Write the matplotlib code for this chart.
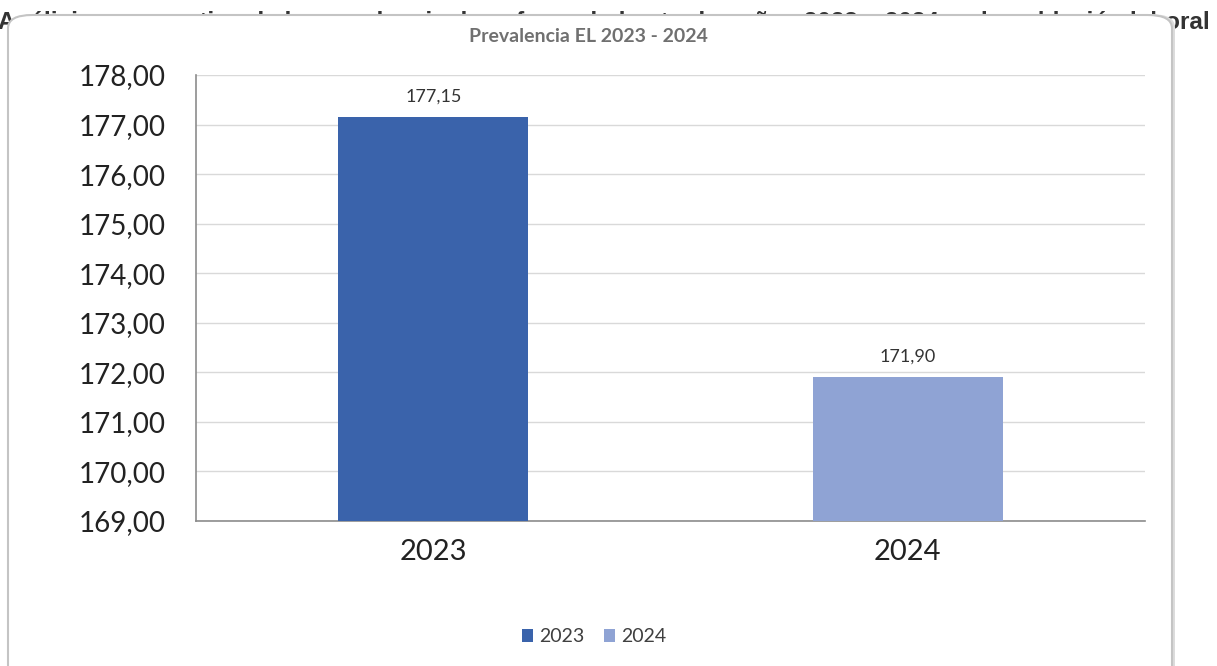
import numpy as np
import matplotlib.pyplot as plt
from matplotlib.patches import FancyBboxPatch

# datos
anios = ['2023', '2024']
prevalencia = [177.15, 171.90]
colores = ['#3A63AB', '#8FA3D4']
y_ticks = [169, 170, 171, 172, 173, 174, 175, 176, 177, 178]

plt.rcParams['font.family'] = ['Lato', 'DejaVu Sans']

fig = plt.figure(figsize=(12.17, 6.66), dpi=100)
fig.patch.set_facecolor('white')

# texto de fondo (tapado casi todo por el recuadro)
fondo = fig.text(1210 / 1217, 1 - 23 / 666,
                 'Análisis comparativo de la prevalencia de enfermedad entre los años '
                 '2023 y 2024 en la población laboral',
                 ha='right', va='center', fontsize=18, fontweight='bold',
                 family='Liberation Sans', color='#333333', zorder=0)
fig.canvas.draw()
ancho = fondo.get_window_extent().width
fondo.set_fontsize(18 * 1208 / ancho)

# sombra y recuadro del gráfico
sombra = FancyBboxPatch((11 / 1217, -0.05), 1164 / 1217, (666 - 14) / 666 + 0.05,
                        boxstyle='round,pad=0,rounding_size=0.02',
                        transform=fig.transFigure, facecolor='#dcdcdc',
                        edgecolor='none', zorder=1)
caja = FancyBboxPatch((8 / 1217, -0.05), 1164 / 1217, (666 - 15) / 666 + 0.05,
                      boxstyle='round,pad=0,rounding_size=0.02',
                      transform=fig.transFigure, facecolor='white',
                      edgecolor='#c4c4c4', linewidth=1.5, zorder=2)
fig.patches.extend([sombra, caja])

ax = fig.add_axes([196 / 1217, (666 - 521) / 666, 949 / 1217, 446 / 666], zorder=3)
ax.set_facecolor('none')

x = np.arange(len(anios))
barras = ax.bar(x, [v - y_ticks[0] for v in prevalencia], bottom=y_ticks[0],
                width=0.4, color=colores, zorder=3)
for b, lab in zip(barras, anios):
    b.set_label(lab)

etiquetas = [f'{v:.2f}'.replace('.', ',') for v in prevalencia]
for xi, v, t in zip(x, prevalencia, etiquetas):
    ax.annotate(t, (xi, v), xytext=(0, 9), textcoords='offset points',
                ha='center', va='bottom', fontsize=13, color='#333333')

ax.set_xlim(-0.5, 1.5)
ax.set_ylim(y_ticks[0], y_ticks[-1])
ax.set_yticks(y_ticks)
ax.set_yticklabels([f'{t:.2f}'.replace('.', ',') for t in y_ticks],
                   fontsize=20, color='#222222')
ax.set_xticks(x)
ax.set_xticklabels(anios, fontsize=21, color='#222222')
ax.tick_params(axis='y', length=0, pad=22)
ax.tick_params(axis='x', length=0, pad=13)

ax.grid(axis='y', color='#d9d9d9', linewidth=1, zorder=0)
ax.set_axisbelow(True)
for s in ['top', 'right']:
    ax.spines[s].set_visible(False)
ax.spines['left'].set_color('#8c8c8c')
ax.spines['bottom'].set_color('#8c8c8c')
ax.spines['left'].set_linewidth(1.2)
ax.spines['bottom'].set_linewidth(1.2)

fig.text(588 / 1217, 1 - 37 / 666, 'Prevalencia EL 2023 - 2024',
         ha='center', va='center', fontsize=14, fontweight='bold',
         color='#707070', zorder=4)

fig.legend(handles=list(barras), labels=anios, loc='center',
           bbox_to_anchor=(594 / 1217, 1 - 637 / 666), ncol=2, frameon=False,
           fontsize=14, handlelength=0.6, handleheight=0.6,
           handletextpad=0.3, columnspacing=1.0, labelcolor='#404040')

fig.savefig('out.png', dpi=100, facecolor='white')
